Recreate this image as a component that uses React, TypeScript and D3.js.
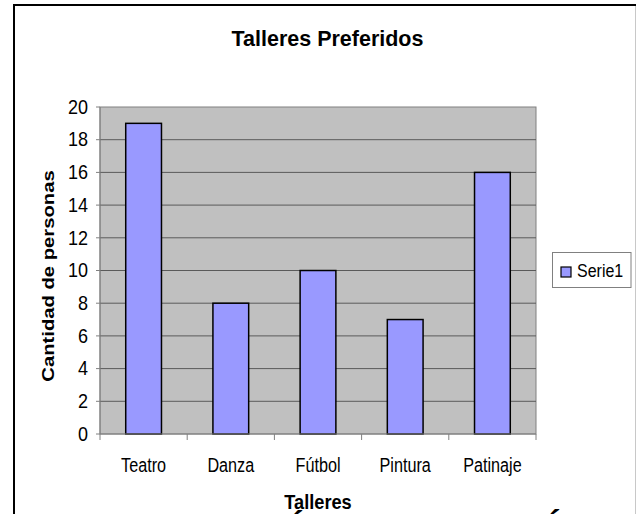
import React from "react";
import * as d3 from "d3";

const categories = ["Teatro", "Danza", "Fútbol", "Pintura", "Patinaje"];
const values = [19, 8, 10, 7, 16];
const yTicks = [0, 2, 4, 6, 8, 10, 12, 14, 16, 18, 20];
const seriesName = "Serie1";
const title = "Talleres Preferidos";
const xTitle = "Talleres";
const yTitle = "Cantidad de personas";

const W = 637;
const H = 514;
const plot = { left: 100, right: 536, top: 107, bottom: 434 };
const FONT = "'Liberation Sans', Arial, sans-serif";

function SText({ x, y, sx = 1, sy = 1, rot = 0, anchor = "start", size, weight = "normal", children }: any) {
  return (
    <g transform={`translate(${x},${y}) scale(${sx},${sy}) rotate(${rot})`}>
      <text x={0} y={0} textAnchor={anchor} fontFamily={FONT} fontSize={size} fontWeight={weight} fill="#000">
        {children}
      </text>
    </g>
  );
}

export default function App() {
  const x = d3.scaleBand<string>().domain(categories).range([plot.left, plot.right]).paddingInner(0).paddingOuter(0);
  const y = d3.scaleLinear().domain([0, 20]).range([plot.bottom, plot.top]);
  const bw = x.bandwidth() * 0.41;

  return (
    <svg width={W} height={H} style={{ position: "absolute", left: 0, top: 0, background: "#fff" }}>
      <rect x={0} y={0} width={W} height={H} fill="#fff" />
      {/* outer chart border */}
      <line x1={14} y1={5} x2={636} y2={5} stroke="#000" strokeWidth={2} />
      <line x1={14} y1={4} x2={14} y2={H} stroke="#000" strokeWidth={2} />
      <line x1={635.5} y1={6} x2={635.5} y2={H} stroke="#c8c8c8" strokeWidth={1} />

      {/* title */}
      <SText x={327.5} y={46} anchor="middle" size={21.5} weight="bold" sy={1.04}>{title}</SText>

      {/* plot area */}
      <rect x={plot.left} y={plot.top} width={plot.right - plot.left} height={plot.bottom - plot.top} fill="#c0c0c0" stroke="#808080" strokeWidth={1} />
      {yTicks.filter((t) => t > 0 && t < 20).map((t) => (
        <line key={t} x1={plot.left} x2={plot.right} y1={y(t)} y2={y(t)} stroke="#5a5a5a" strokeWidth={1} />
      ))}

      {/* bars */}
      {categories.map((c, i) => {
        const cx = (x(c) as number) + x.bandwidth() / 2;
        return (
          <rect key={c} x={cx - bw / 2} y={y(values[i])} width={bw} height={y(0) - y(values[i])} fill="#9999ff" stroke="#000" strokeWidth={1.5} />
        );
      })}

      {/* y axis */}
      <line x1={plot.left} x2={plot.left} y1={plot.top} y2={plot.bottom} stroke="#808080" strokeWidth={1} />
      {yTicks.map((t) => (
        <g key={t}>
          <line x1={plot.left - 4} x2={plot.left} y1={y(t)} y2={y(t)} stroke="#808080" strokeWidth={1} />
          <SText x={88} y={y(t) + 6.7} anchor="end" size={18} sy={1.08}>{String(t)}</SText>
        </g>
      ))}

      {/* x axis */}
      <line x1={plot.left} x2={plot.right} y1={plot.bottom} y2={plot.bottom} stroke="#808080" strokeWidth={1} />
      {categories.map((c) => (
        <line key={"t" + c} x1={x(c) as number} x2={x(c) as number} y1={plot.bottom} y2={plot.bottom + 6} stroke="#808080" strokeWidth={1} />
      ))}
      <line x1={plot.right} x2={plot.right} y1={plot.bottom} y2={plot.bottom + 6} stroke="#808080" strokeWidth={1} />
      {categories.map((c) => (
        <SText key={"l" + c} x={(x(c) as number) + x.bandwidth() / 2} y={471.7} anchor="middle" size={16.2} sy={1.3}>{c}</SText>
      ))}

      {/* axis titles */}
      <SText x={318} y={509.3} anchor="middle" size={18.2} weight="bold" sy={1.1}>{xTitle}</SText>
      <SText x={54} y={276} anchor="middle" size={17.3} weight="bold" sy={1.17} rot={-90}>{yTitle}</SText>

      {/* legend */}
      <rect x={552.5} y={252.5} width={78.5} height={35} fill="#fff" stroke="#808080" strokeWidth={1} />
      <rect x={561} y={267} width={10} height={10} fill="#9999ff" stroke="#000" strokeWidth={1.2} />
      <SText x={577} y={277.3} anchor="start" size={16} sy={1.16}>{seriesName}</SText>

      {/* clipped glyph fragments at bottom edge */}
      <SText x={298} y={534} anchor="middle" size={34} weight="bold">´</SText>
      <SText x={555} y={533} anchor="middle" size={34} weight="bold">´</SText>
    </svg>
  );
}
